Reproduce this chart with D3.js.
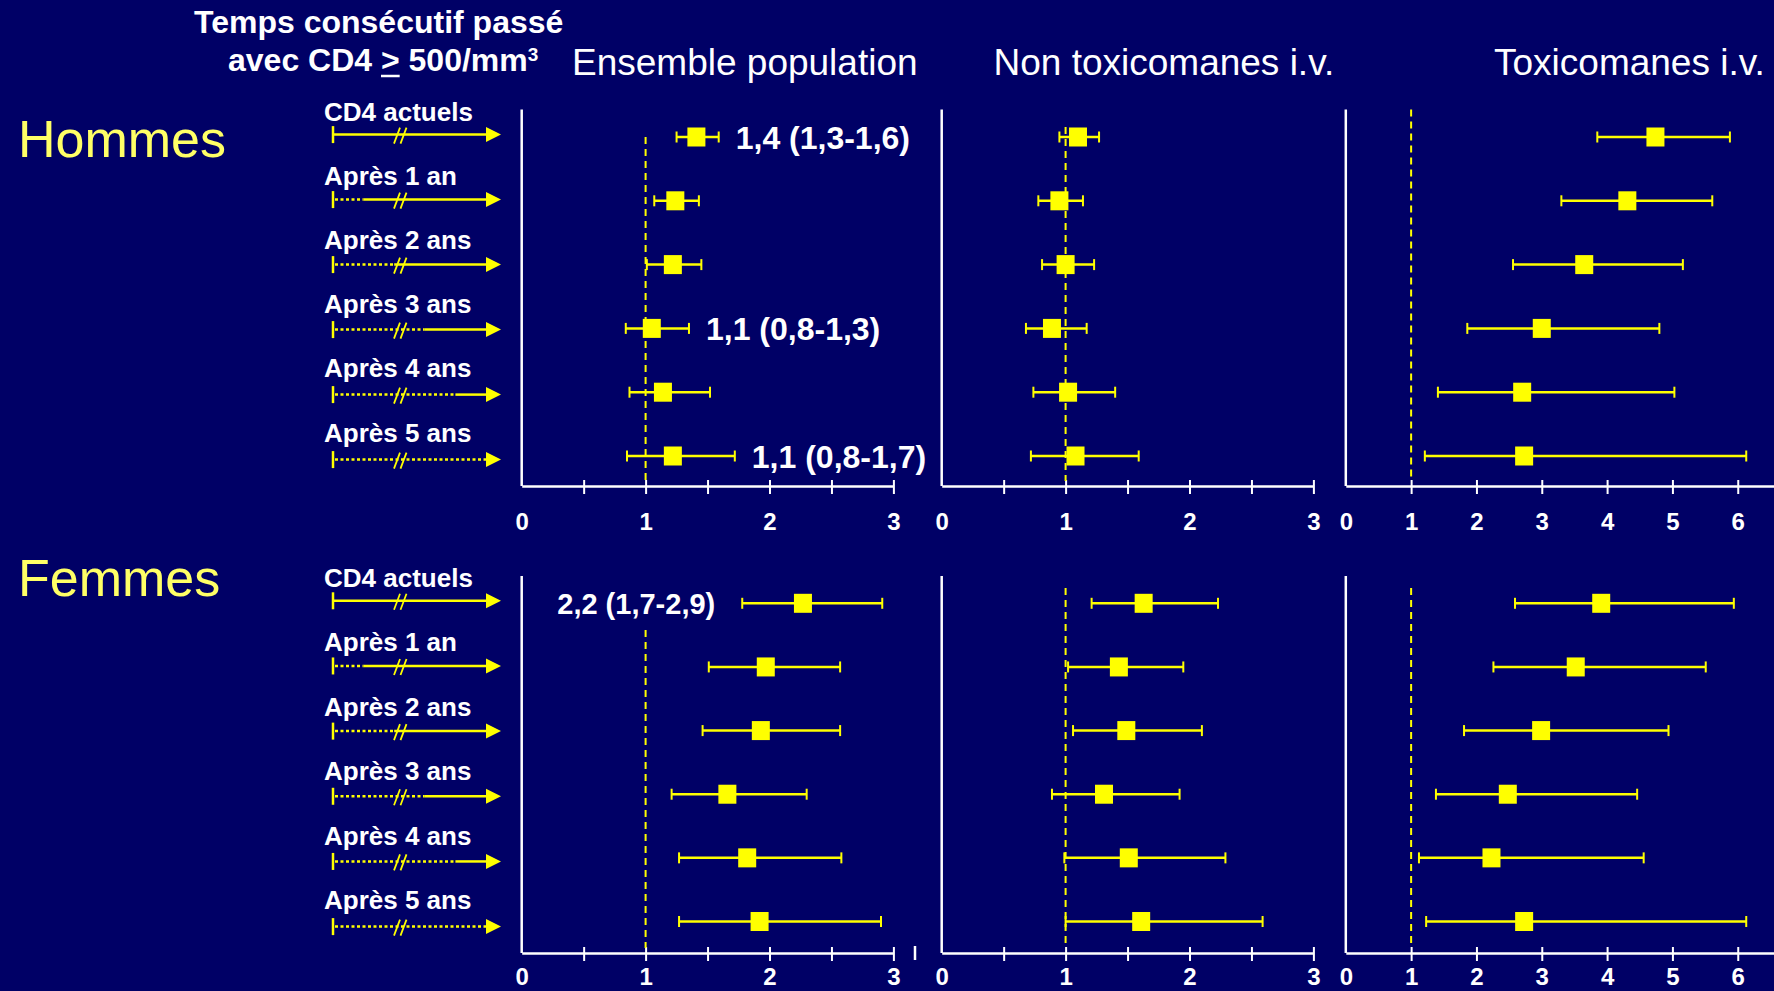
<!DOCTYPE html>
<html>
<head>
<meta charset="utf-8">
<script src="https://cdn.jsdelivr.net/npm/d3@7"></script>
<style>
  body { margin: 0; background: #000066; }
  svg { display: block; }
</style>
</head>
<body>
<svg id="chart"></svg>
<script>
// Row labels and the number of years shown dotted on each legend arrow
const rowLabels = ["CD4 actuels", "Après 1 an", "Après 2 ans", "Après 3 ans", "Après 4 ans", "Après 5 ans"];
const dottedYears = [0, 1, 2, 3, 4, 5];
const groupNames = ["Hommes", "Femmes"];
const columnTitles = ["Ensemble population", "Non toxicomanes i.v.", "Toxicomanes i.v."];
const ticksNarrow = [0, 0.5, 1, 1.5, 2, 2.5, 3];
const ticksWide = [0, 1, 2, 3, 4, 5, 6];

// [risque relatif, IC bas, IC haut] per row
const hommesEnsemble = [[1.41, 1.25, 1.59], [1.24, 1.07, 1.43], [1.22, 1.01, 1.45], [1.05, 0.84, 1.35], [1.14, 0.87, 1.52], [1.22, 0.85, 1.72]];
const hommesNonTox = [[1.10, 0.95, 1.27], [0.95, 0.78, 1.14], [1.00, 0.81, 1.23], [0.89, 0.68, 1.17], [1.02, 0.74, 1.40], [1.08, 0.72, 1.59]];
const hommesTox = [[4.74, 3.85, 5.88], [4.31, 3.30, 5.61], [3.65, 2.56, 5.16], [3.00, 1.86, 4.80], [2.70, 1.41, 5.03], [2.73, 1.21, 6.13]];
const femmesEnsemble = [[2.27, 1.78, 2.91], [1.97, 1.51, 2.57], [1.93, 1.46, 2.57], [1.66, 1.21, 2.30], [1.82, 1.27, 2.58], [1.92, 1.27, 2.90]];
const femmesNonTox = [[1.63, 1.21, 2.23], [1.43, 1.02, 1.95], [1.49, 1.06, 2.10], [1.31, 0.89, 1.92], [1.51, 0.99, 2.29], [1.61, 1.00, 2.59]];
const femmesTox = [[3.91, 2.59, 5.94], [3.52, 2.26, 5.51], [2.99, 1.81, 4.94], [2.48, 1.38, 4.46], [2.23, 1.12, 4.56], [2.73, 1.23, 6.13]];

// printed values next to some of the "Ensemble population" rows
const hommesNotes = ["1,4 (1,3-1,6)", null, null, "1,1 (0,8-1,3)", null, "1,1 (0,8-1,7)"];
const femmesNotes = ["2,2 (1,7-2,9)", null, null, null, null, null];

document.addEventListener("DOMContentLoaded", function() {
  const width = 1774;
  const height = 991;
  const font = "'Liberation Sans', Arial, sans-serif";
  const yellow = "#ffff00";

  const svg = d3.select("#chart")
    .attr("width", width)
    .attr("height", height)
    .style("background", "#000066");

  // horizontal placement of the three panels
  const panels = [
    { domain: [0, 3], range: [521.7, 893.4], ticks: ticksNarrow, dashTop: [137, 630] },
    { domain: [0, 3], range: [941.7, 1313.4], ticks: ticksNarrow, dashTop: [127, 588] },
    { domain: [0, 6.555], range: [1345.8, 1774], ticks: ticksWide, dashTop: [109.5, 588] }
  ];

  // vertical placement of the two blocks
  const blocks = [
    { name: groupNames[0], data: [hommesEnsemble, hommesNonTox, hommesTox], notes: hommesNotes,
      top: 109.5, axisY: 486, rows: [137, 456], arrows: [134.6, 459.6], labels: [120.6, 441.6],
      nameY: 156.7, tickLabelDy: 44, noteSize: 32, noteSide: 1 },
    { name: groupNames[1], data: [femmesEnsemble, femmesNonTox, femmesTox], notes: femmesNotes,
      top: 576, axisY: 953, rows: [603.3, 921.5], arrows: [600.8, 926.6], labels: [586.6, 909.2],
      nameY: 596, tickLabelDy: 32, noteSize: 29, noteSide: -1 }
  ];

  // Title
  svg.append("text")
    .attr("x", 194).attr("y", 33)
    .attr("font-family", font).attr("font-weight", "bold").attr("font-size", 32)
    .attr("fill", "#fff")
    .text("Temps consécutif passé");

  const sub = svg.append("text")
    .attr("x", 228).attr("y", 70.7)
    .attr("font-family", font).attr("font-weight", "bold").attr("font-size", 32)
    .attr("fill", "#fff");
  sub.append("tspan").text("avec CD4 > 500/mm");
  sub.append("tspan").attr("dy", -10).attr("font-size", 19).text("3");
  const gtStart = sub.node().getStartPositionOfChar(9);
  const gtEnd = sub.node().getEndPositionOfChar(9);
  svg.append("line")
    .attr("x1", gtStart.x).attr("x2", gtEnd.x)
    .attr("y1", 76).attr("y2", 76)
    .attr("stroke", "#fff").attr("stroke-width", 2.5);

  // Column titles
  const titleX = [572, 993.5, 1494];
  svg.selectAll(".col-title")
    .data(columnTitles)
    .enter()
    .append("text")
    .attr("class", "col-title")
    .attr("x", (d, i) => titleX[i])
    .attr("y", 75)
    .attr("font-family", font).attr("font-size", 37)
    .attr("fill", "#fff")
    .text(d => d);

  const dotScale = d3.scaleLinear().domain([0, 5]).range([333, 486]);

  blocks.forEach(function(block, b) {
    const yScale = d3.scalePoint().domain(d3.range(6)).range(block.rows);
    const arrowScale = d3.scalePoint().domain(d3.range(6)).range(block.arrows);
    const labelScale = d3.scalePoint().domain(d3.range(6)).range(block.labels);

    // Group name
    svg.append("text")
      .attr("x", 18).attr("y", block.nameY)
      .attr("font-family", font).attr("font-size", 52)
      .attr("fill", "#ffff66")
      .text(block.name);

    // Legend: row labels and arrows
    const legend = svg.append("g");
    legend.selectAll("text")
      .data(rowLabels)
      .enter()
      .append("text")
      .attr("x", 324)
      .attr("y", (d, i) => labelScale(i))
      .attr("font-family", font).attr("font-weight", "bold").attr("font-size", 26)
      .attr("fill", "#fff")
      .text(d => d);

    const rows = legend.selectAll("g")
      .data(dottedYears)
      .enter()
      .append("g")
      .attr("transform", (d, i) => `translate(0, ${arrowScale(i)})`);

    rows.append("line")
      .attr("x1", 333).attr("x2", 333).attr("y1", -8.5).attr("y2", 8.5)
      .attr("stroke", yellow).attr("stroke-width", 2.5);

    rows.filter(d => d > 0)
      .append("line")
      .attr("x1", 335).attr("x2", d => dotScale(d))
      .attr("y1", 0).attr("y2", 0)
      .attr("stroke", yellow).attr("stroke-width", 2.5)
      .attr("stroke-dasharray", "3,2.5");

    rows.filter(d => d < 5)
      .append("line")
      .attr("x1", d => dotScale(d))
      .attr("x2", 487)
      .attr("y1", 0).attr("y2", 0)
      .attr("stroke", yellow).attr("stroke-width", 2.5);

    rows.append("path")
      .attr("d", "M486,-7.5L501,0L486,7.5Z")
      .attr("fill", yellow);

    [394, 400.5].forEach(function(sx) {
      rows.append("line")
        .attr("x1", sx).attr("y1", 9).attr("x2", sx + 6).attr("y2", -7)
        .attr("stroke", yellow).attr("stroke-width", 1.8);
    });

    // Panels
    panels.forEach(function(panel, p) {
      const xScale = d3.scaleLinear().domain(panel.domain).range(panel.range);
      const g = svg.append("g");

      // vertical axis line
      g.append("line")
        .attr("x1", xScale(0)).attr("x2", xScale(0))
        .attr("y1", block.top).attr("y2", block.axisY)
        .attr("stroke", "#fff").attr("stroke-width", 2.5);

      const xAxis = d3.axisBottom(xScale)
        .tickValues(panel.ticks)
        .tickSizeOuter(0)
        .tickFormat(d => Number.isInteger(d) ? d : "");

      const axisG = g.append("g")
        .attr("transform", `translate(0, ${block.axisY})`)
        .call(xAxis)
        .attr("font-family", font)
        .attr("font-weight", "bold")
        .attr("font-size", 24)
        .attr("color", "#fff");

      axisG.select(".domain").attr("stroke-width", 2.5);
      axisG.selectAll(".tick line")
        .attr("y1", -6).attr("y2", 8)
        .attr("stroke-width", 2);
      axisG.selectAll(".tick")
        .filter(d => d === 0)
        .select("line").remove();
      axisG.selectAll(".tick text")
        .attr("y", block.tickLabelDy)
        .attr("dy", null);

      // reference line at 1
      g.append("line")
        .attr("x1", xScale(1)).attr("x2", xScale(1))
        .attr("y1", panel.dashTop[b]).attr("y2", block.axisY - 5)
        .attr("stroke", yellow).attr("stroke-width", 2)
        .attr("stroke-dasharray", "7,5");

      const values = block.data[p];

      const bars = g.selectAll(".ci")
        .data(values)
        .enter()
        .append("g")
        .attr("class", "ci")
        .attr("transform", (d, i) => `translate(0, ${yScale(i)})`);

      bars.append("line")
        .attr("x1", d => xScale(d[1])).attr("x2", d => xScale(d[2]))
        .attr("y1", 0).attr("y2", 0)
        .attr("stroke", yellow).attr("stroke-width", 2.5);

      bars.append("line")
        .attr("x1", d => xScale(d[1])).attr("x2", d => xScale(d[1]))
        .attr("y1", -5.5).attr("y2", 5.5)
        .attr("stroke", yellow).attr("stroke-width", 2);

      bars.append("line")
        .attr("x1", d => xScale(d[2])).attr("x2", d => xScale(d[2]))
        .attr("y1", -5.5).attr("y2", 5.5)
        .attr("stroke", yellow).attr("stroke-width", 2);

      bars.append("rect")
        .attr("x", d => xScale(d[0]) - 9)
        .attr("y", -9.5)
        .attr("width", 18)
        .attr("height", 19)
        .attr("fill", yellow);

      if (p === 0) {
        bars.filter((d, i) => block.notes[i])
          .append("text")
          .attr("x", d => block.noteSide > 0 ? xScale(d[2]) + 17 : xScale(d[1]) - 27)
          .attr("y", block.noteSize * 0.36)
          .attr("text-anchor", block.noteSide > 0 ? "start" : "end")
          .attr("font-family", font).attr("font-weight", "bold")
          .attr("font-size", block.noteSize)
          .attr("fill", "#fff")
          .text(d => block.notes[values.indexOf(d)]);
      }
    });
  });

  // small stray tick under the lower left panel
  svg.append("line")
    .attr("x1", 915).attr("x2", 915)
    .attr("y1", 946).attr("y2", 960)
    .attr("stroke", "#fff").attr("stroke-width", 2.5);
});
</script>
</body>
</html>
